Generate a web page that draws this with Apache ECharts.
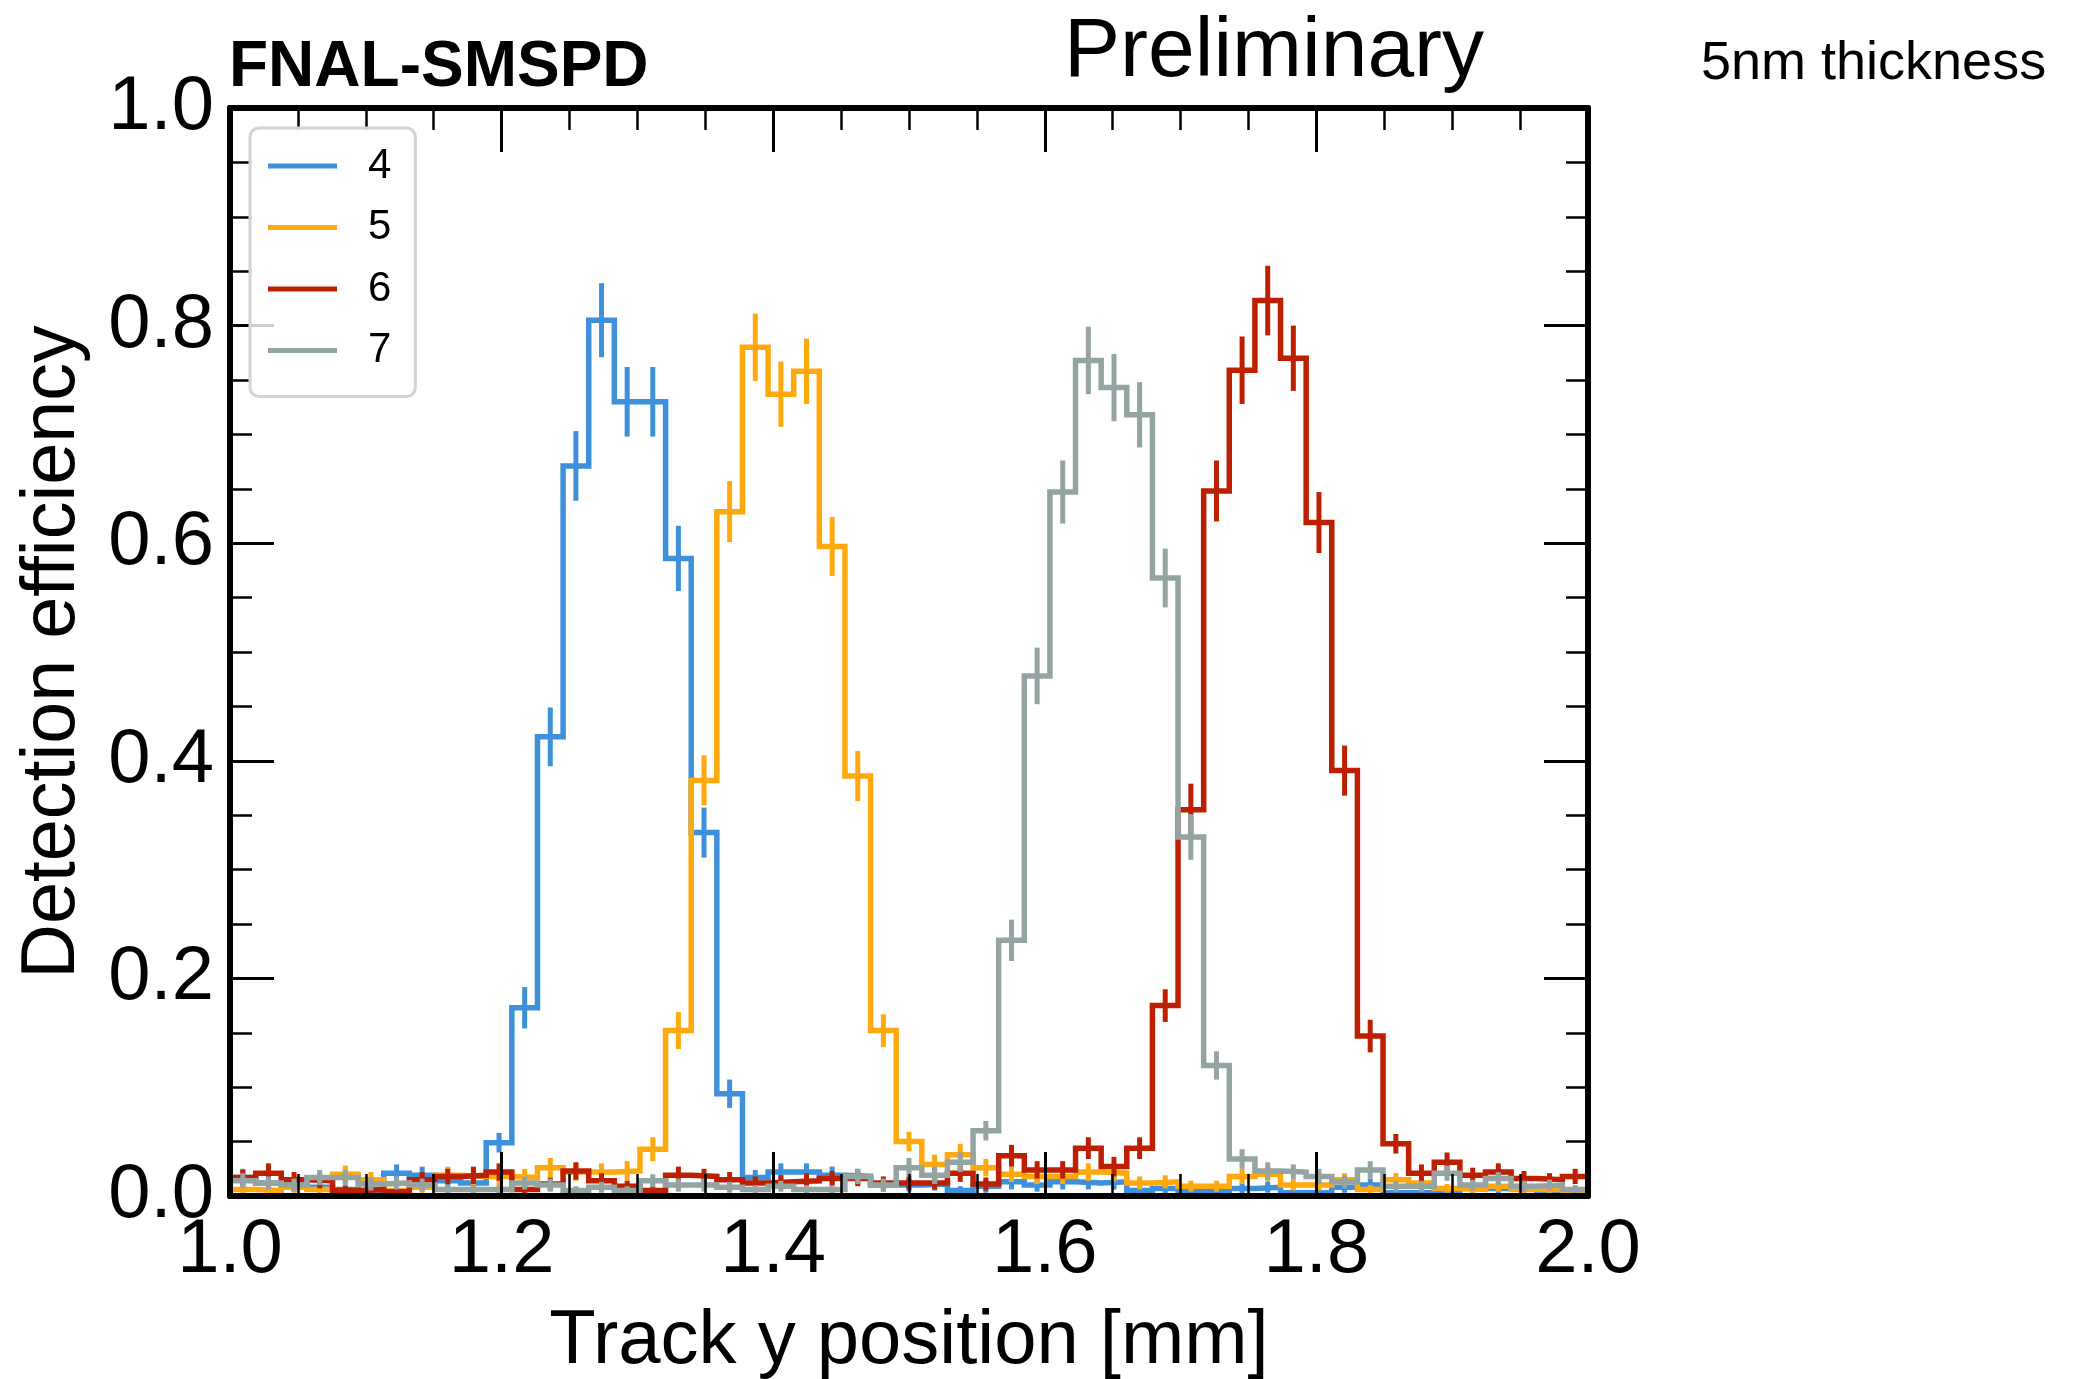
<!DOCTYPE html>
<html>
<head>
<meta charset="utf-8">
<title>FNAL-SMSPD detection efficiency</title>
<script src="https://cdn.jsdelivr.net/npm/echarts@6/dist/echarts.min.js"></script>
<style>
  html, body { margin: 0; padding: 0; background: #ffffff; }
  #chart { width: 2078px; height: 1379px; }
</style>
</head>
<body>
<div id="chart"></div>
<script>
// Binning of the track y position histogram
const X_MIN = 1.0;
const X_MAX = 2.0;
const N_BINS = 53;

// Tick labels
const xTicks = [1.0, 1.2, 1.4, 1.6, 1.8, 2.0];
const yTicks = [0.0, 0.2, 0.4, 0.6, 0.8, 1.0];

// Channel names and colours
const channels = ['4', '5', '6', '7'];
const colors = ['#3f90da', '#ffa90e', '#bd1f01', '#94a4a2'];

// Detection efficiency per bin, one array per channel
const eff4 = [0.017, 0.012, 0.010, 0.008, 0.006, 0.004, 0.021, 0.019, 0.014, 0.012,
              0.049, 0.173, 0.422, 0.671, 0.805, 0.730, 0.730, 0.586, 0.334, 0.094,
              0.017, 0.022, 0.022, 0.019, 0.018, 0.010, 0.010, 0.011, 0.005, 0.009,
              0.013, 0.010, 0.013, 0.012, 0.013, 0.005, 0.007, 0.005, 0.005, 0.007,
              0.008, 0.003, 0.003, 0.008, 0.010, 0.003, 0.003, 0.005, 0.007, 0.007,
              0.008, 0.003, 0.003];
const eff5 = [0.006, 0.005, 0.008, 0.006, 0.020, 0.015, 0.005, 0.008, 0.019, 0.018,
              0.018, 0.017, 0.026, 0.022, 0.022, 0.023, 0.043, 0.152, 0.382, 0.629,
              0.780, 0.737, 0.758, 0.597, 0.386, 0.152, 0.050, 0.029, 0.038, 0.026,
              0.020, 0.018, 0.018, 0.022, 0.021, 0.012, 0.013, 0.009, 0.009, 0.018,
              0.020, 0.010, 0.010, 0.015, 0.006, 0.015, 0.012, 0.007, 0.006, 0.009,
              0.006, 0.006, 0.004];
const eff6 = [0.017, 0.021, 0.015, 0.014, 0.005, 0.006, 0.004, 0.015, 0.018, 0.019,
              0.022, 0.006, 0.011, 0.023, 0.014, 0.009, 0.005, 0.019, 0.018, 0.015,
              0.012, 0.013, 0.014, 0.016, 0.016, 0.012, 0.012, 0.012, 0.021, 0.011,
              0.037, 0.024, 0.024, 0.044, 0.027, 0.044, 0.175, 0.355, 0.648, 0.759,
              0.823, 0.770, 0.619, 0.391, 0.147, 0.048, 0.021, 0.031, 0.019, 0.022,
              0.016, 0.015, 0.018];
const eff7 = [0.014, 0.012, 0.010, 0.017, 0.017, 0.011, 0.012, 0.010, 0.006, 0.006,
              0.006, 0.012, 0.010, 0.005, 0.008, 0.005, 0.014, 0.010, 0.010, 0.008,
              0.006, 0.009, 0.006, 0.006, 0.018, 0.010, 0.026, 0.019, 0.031, 0.060,
              0.235, 0.478, 0.647, 0.768, 0.743, 0.718, 0.568, 0.330, 0.120, 0.034,
              0.023, 0.022, 0.018, 0.013, 0.024, 0.009, 0.009, 0.021, 0.010, 0.016,
              0.009, 0.010, 0.006];

// Statistical uncertainty per bin, one array per channel
const err4 = [0.008, 0.006, 0.006, 0.005, 0.004, 0.004, 0.008, 0.008, 0.007, 0.006,
              0.009, 0.019, 0.027, 0.032, 0.034, 0.032, 0.032, 0.030, 0.023, 0.013,
              0.007, 0.008, 0.008, 0.008, 0.007, 0.006, 0.006, 0.006, 0.004, 0.006,
              0.007, 0.006, 0.007, 0.006, 0.007, 0.004, 0.005, 0.004, 0.004, 0.005,
              0.005, 0.003, 0.003, 0.005, 0.006, 0.003, 0.003, 0.004, 0.005, 0.005,
              0.005, 0.003, 0.003];
const err5 = [0.005, 0.004, 0.005, 0.005, 0.008, 0.007, 0.004, 0.005, 0.008, 0.008,
              0.008, 0.008, 0.009, 0.008, 0.008, 0.009, 0.011, 0.017, 0.023, 0.028,
              0.031, 0.030, 0.030, 0.027, 0.023, 0.015, 0.009, 0.009, 0.010, 0.008,
              0.007, 0.007, 0.007, 0.008, 0.008, 0.006, 0.006, 0.005, 0.005, 0.007,
              0.007, 0.005, 0.005, 0.006, 0.004, 0.006, 0.006, 0.004, 0.004, 0.005,
              0.004, 0.004, 0.003];
const err6 = [0.007, 0.009, 0.007, 0.007, 0.004, 0.004, 0.003, 0.007, 0.007, 0.008,
              0.008, 0.004, 0.006, 0.008, 0.007, 0.005, 0.004, 0.008, 0.007, 0.007,
              0.006, 0.006, 0.007, 0.007, 0.007, 0.006, 0.006, 0.006, 0.008, 0.006,
              0.010, 0.008, 0.008, 0.010, 0.009, 0.010, 0.015, 0.024, 0.028, 0.031,
              0.032, 0.030, 0.028, 0.023, 0.015, 0.009, 0.008, 0.009, 0.007, 0.008,
              0.007, 0.006, 0.007];
const err7 = [0.007, 0.006, 0.006, 0.007, 0.007, 0.006, 0.006, 0.006, 0.004, 0.004,
              0.004, 0.006, 0.006, 0.004, 0.005, 0.004, 0.006, 0.006, 0.006, 0.005,
              0.004, 0.005, 0.004, 0.004, 0.007, 0.006, 0.009, 0.008, 0.009, 0.009,
              0.019, 0.026, 0.029, 0.031, 0.031, 0.030, 0.027, 0.021, 0.013, 0.009,
              0.008, 0.007, 0.007, 0.006, 0.008, 0.005, 0.005, 0.007, 0.005, 0.006,
              0.005, 0.005, 0.004];

const effs = [eff4, eff5, eff6, eff7];
const errs = [err4, err5, err6, err7];

// Bin edges and centres
const binWidth = (X_MAX - X_MIN) / N_BINS;
const edges = [];
for (let i = 0; i <= N_BINS; i++) edges.push(X_MIN + i * binWidth);
const centers = edges.slice(0, N_BINS).map(e => e + binWidth / 2);

const FONT = '"Liberation Sans", Arial, Helvetica, sans-serif';
const LINE_W = 5.5;
const ERR_W = 5;

// Step outline: one point per left edge, plus the closing right edge
function stepData(vals) {
  return edges.map((x, i) => [x, vals[Math.min(i, vals.length - 1)]]);
}

function errorSeries(idx) {
  const color = colors[idx];
  return {
    type: 'custom',
    name: channels[idx],
    z: 3 + idx,
    clip: true,
    silent: true,
    encode: { x: 0, y: 1 },
    data: centers.map((c, i) => [c, effs[idx][i], errs[idx][i]]),
    renderItem: (params, api) => {
      const x = api.value(0), y = api.value(1), e = api.value(2);
      const lo = api.coord([x, Math.max(0, y - e)]);
      const hi = api.coord([x, y + e]);
      return {
        type: 'line',
        shape: { x1: lo[0], y1: lo[1], x2: hi[0], y2: hi[1] },
        style: { stroke: color, lineWidth: ERR_W }
      };
    }
  };
}

function stepSeries(idx) {
  return {
    type: 'line',
    name: channels[idx],
    step: 'end',
    z: 3 + idx,
    symbol: 'none',
    clip: true,
    lineStyle: { color: colors[idx], width: LINE_W, join: 'miter' },
    itemStyle: { color: colors[idx] },
    data: stepData(effs[idx])
  };
}

const tickCommon = {
  axisLine: { show: true, onZero: false, lineStyle: { color: '#000', width: 6 } },
  axisTick: { show: true, inside: true, length: 44, lineStyle: { color: '#000', width: 3 } },
  minorTick: { show: true, splitNumber: 4, length: 22, lineStyle: { color: '#000', width: 2.5 } },
  splitLine: { show: false },
  minorSplitLine: { show: false }
};

const labelStyle = { color: '#000', fontFamily: FONT, fontSize: 76 };

const option = {
  animation: false,
  backgroundColor: '#ffffff',
  grid: { left: 230, right: 490, top: 108, bottom: 183, containLabel: false, outerBoundsMode: 'none' },
  xAxis: [
    Object.assign({
      type: 'value', position: 'bottom', min: X_MIN, max: X_MAX, interval: 0.2, z: 20,
      axisLabel: Object.assign({ margin: 17, formatter: v => v.toFixed(1),
        customValues: xTicks }, labelStyle),
      name: 'Track y position [mm]', nameLocation: 'middle', nameGap: 108,
      nameTextStyle: { color: '#000', fontFamily: FONT, fontSize: 76 }
    }, tickCommon),
    Object.assign({
      type: 'value', position: 'top', min: X_MIN, max: X_MAX, interval: 0.2, z: 20,
      axisLabel: { show: false }
    }, tickCommon)
  ],
  yAxis: [
    Object.assign({
      type: 'value', position: 'left', min: 0, max: 1, interval: 0.2, z: 20,
      axisLabel: Object.assign({ margin: 16, formatter: v => v.toFixed(1),
        customValues: yTicks }, labelStyle),
      name: 'Detection efficiency', nameLocation: 'middle', nameGap: 139, nameRotate: 90,
      nameTextStyle: { color: '#000', fontFamily: FONT, fontSize: 75.5 }
    }, tickCommon),
    Object.assign({
      type: 'value', position: 'right', min: 0, max: 1, interval: 0.2, z: 20,
      axisLabel: { show: false }
    }, tickCommon)
  ],
  legend: {
    orient: 'vertical',
    left: 250,
    top: 128,
    z: 30,
    padding: [17, 24, 25, 18],
    itemGap: 19.5,
    itemWidth: 69,
    itemHeight: 5,
    icon: 'rect',
    selectedMode: false,
    data: channels,
    textStyle: { color: '#000', fontFamily: FONT, fontSize: 42, lineHeight: 42, padding: [0, 0, 0, 26] },
    borderColor: '#d3d3d3',
    borderWidth: 3,
    borderRadius: 9,
    backgroundColor: 'rgba(255,255,255,0.8)'
  },
  graphic: [
    { type: 'text', x: 229, y: 100, z: 40,
      style: { text: 'FNAL-SMSPD', fill: '#000', font: 'bold 64px ' + FONT, textVerticalAlign: 'bottom' } },
    { type: 'text', x: 1064, y: 95, z: 40,
      style: { text: 'Preliminary', fill: '#000', font: '84px ' + FONT, textVerticalAlign: 'bottom' } },
    { type: 'text', x: 1701, y: 91, z: 40,
      style: { text: '5nm thickness', fill: '#000', font: '54px ' + FONT, textVerticalAlign: 'bottom' } }
  ],
  series: [0, 1, 2, 3].map(stepSeries).concat([0, 1, 2, 3].map(errorSeries))
};

const chart = echarts.init(document.getElementById('chart'), null, { renderer: 'canvas' });
chart.setOption(option);
</script>
</body>
</html>
